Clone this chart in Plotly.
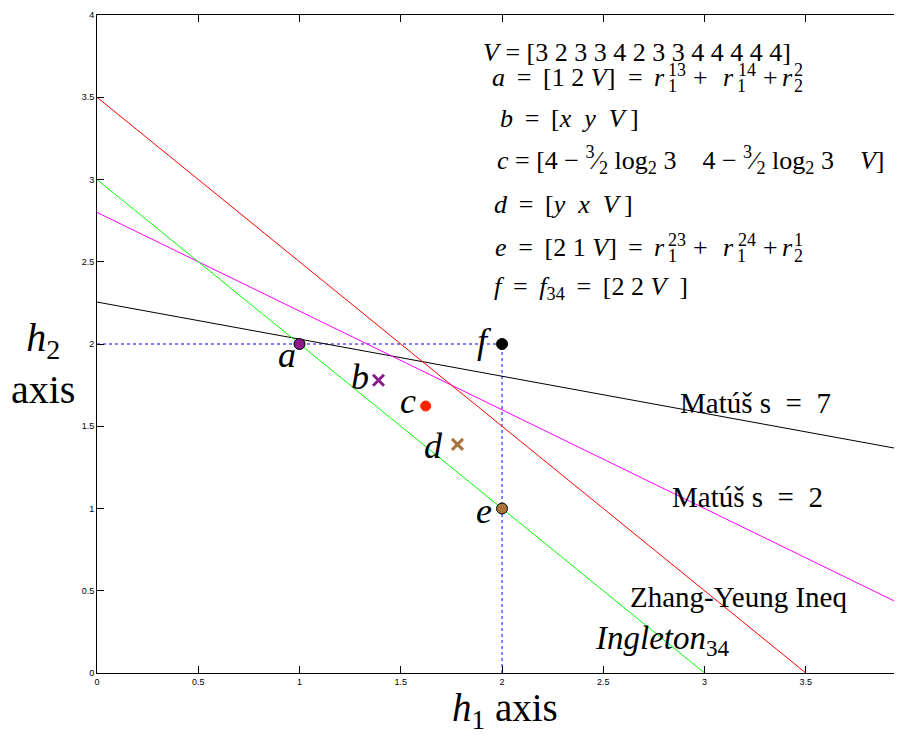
import plotly.graph_objects as go

# ---- data ----
ingleton_x = [0, 3]
ingleton_y = [3, 0]
zy_x = [0, 3.5]
zy_y = [3.5, 0]
s2_x = [0, 3.97]
s2_y = [2.8, 0.418]
s7_x = [0, 3.97]
s7_y = [2.255, 1.36]
guide_h_x = [0, 2]
guide_h_y = [2, 2]
guide_v_x = [2, 2]
guide_v_y = [0, 2]

pt_names = ["a", "b", "c", "d", "e", "f"]
pt_x = [1, 1.39, 1.623, 1.78, 2, 2]
pt_y = [2, 1.78, 1.623, 1.39, 1, 2]
pt_symbol = ["circle", "x-thin", "circle", "x-thin", "circle", "circle"]
pt_color = ["#8B1A8B", "#8B1A8B", "#FF2200", "#A8743C", "#A8743C", "#000000"]

x_ticks = [0, 0.5, 1, 1.5, 2, 2.5, 3, 3.5]
y_ticks = [0, 0.5, 1, 1.5, 2, 2.5, 3, 3.5, 4]

X_RANGE = [0, 3.97]
Y_RANGE = [0, 4]

SERIF = "Liberation Serif"
TH = "\u2009"  # thin space

# page has an 8px body margin; plot box sits at px 97..901 x 15..673
PAGE_OFF = 8
W, H = 902 - PAGE_OFF, 735 - PAGE_OFF
ML, MT, MR, MB = 97 - PAGE_OFF, 15 - PAGE_OFF, 1, 735 - 673
PX0, PX1, PY0, PY1 = 97, 901, 15, 673


def px2x(px):
    return X_RANGE[0] + (px - PX0) / (PX1 - PX0) * (X_RANGE[1] - X_RANGE[0])


def px2y(py):
    return Y_RANGE[0] + (PY1 - py) / (PY1 - PY0) * (Y_RANGE[1] - Y_RANGE[0])


fig = go.Figure()


def add_line(xs, ys, color, dash="solid"):
    fig.add_trace(go.Scatter(x=xs, y=ys, mode="lines",
                             line=dict(color=color, width=1, dash=dash),
                             hoverinfo="skip", showlegend=False))


add_line(guide_h_x, guide_h_y, "#0000FF", "dot")
add_line(guide_v_x, guide_v_y, "#0000FF", "dot")
add_line(s7_x, s7_y, "#000000")
add_line(s2_x, s2_y, "#FF00FF")
add_line(zy_x, zy_y, "#FF0000")
add_line(ingleton_x, ingleton_y, "#00FF00")

for i in range(len(pt_x)):
    if pt_symbol[i] == "circle":
        red = pt_color[i] == "#FF2200"
        marker = dict(symbol="circle", size=10 if red else 11, color=pt_color[i],
                      line=dict(color=pt_color[i] if red else "#000000", width=1))
    else:
        marker = dict(symbol="x-thin", size=11, color=pt_color[i],
                      line=dict(color=pt_color[i], width=3))
    fig.add_trace(go.Scatter(x=[pt_x[i]], y=[pt_y[i]], mode="markers",
                             marker=marker, showlegend=False, hoverinfo="skip"))


def txt(px, py, text, size, anchor="left", paper=False):
    if paper:
        kw = dict(xref="paper", yref="paper",
                  x=(px - PX0) / (PX1 - PX0), y=(PY1 - py) / (PY1 - PY0))
    else:
        kw = dict(x=px2x(px), y=px2y(py))
    fig.add_annotation(text=text, showarrow=False, xanchor=anchor, yanchor="middle",
                       borderpad=0, font=dict(family=SERIF, size=size, color="black"),
                       **kw)


# point labels (pixel centres)
lbl_px = [287, 360, 408, 433, 484, 484]
lbl_py = [355, 377, 401, 446, 511, 341]
for i in range(len(pt_names)):
    txt(lbl_px[i], lbl_py[i], "<i>%s</i>" % pt_names[i], 36, "center")

# formula block
FS = 26
EQ = " " + TH + "=" + TH + " "
txt(482, 52, "<i>V</i> = [3 2 3 3 4 2 3 3 4 4 4 4 4]", FS)


def r_sum(main, left, cy, sups, subs):
    txt(left, cy, main, FS)
    txt(635, cy, "=", FS, "center")
    for rx in [659, 728, 787]:
        txt(rx, cy, "<i>r</i>", FS, "center")
    for plx in [700, 770]:
        txt(plx, cy, "+", FS, "center")
    for sx, s in zip([667, 737, 793], sups):
        txt(sx, cy - 7, s, 18)
    for sx, s in zip([667, 736, 793], subs):
        txt(sx, cy + 9, s, 18)


r_sum("<i>a</i>" + EQ + "[1 2 <i>V</i>]", 491, 77, ["13", "14", "2"], ["1", "1", "2"])
txt(499, 118, "<i>b</i>" + EQ + "[<i>x  y  V</i>" + TH + "]", FS)
txt(496, 160, "<i>c</i> = [4 − <sup>3</sup>⁄<sub>2</sub> log<sub>2</sub> 3    4 − <sup>3</sup>⁄<sub>2</sub> log<sub>2</sub> 3    <i>V</i>]", FS)
txt(493, 204, "<i>d</i>" + EQ + "[<i>y  x  V</i>" + TH + "]", FS)
r_sum("<i>e</i>" + EQ + "[2 1 <i>V</i>]", 494, 247, ["23", "24", "1"], ["1", "1", "2"])
txt(493, 288, "<i>f</i>" + EQ + "<i>f</i><sub>34</sub>" + EQ + "[2 2 <i>V</i>  ]", FS)

# line labels
txt(755, 403, "Matúš s  =  7", 29, "center")
txt(747, 497, "Matúš s  =  2", 29, "center")
txt(738, 597, "Zhang-Yeung Ineq", 29, "center")
txt(662, 640, "<i>Ingleton</i><sub>34</sub>", 33, "center")

# axis titles
txt(505, 710, "<i>h</i><sub>1</sub> axis", 39, "center", paper=True)
txt(43, 363, "<i>h</i><sub>2</sub><br>axis", 40, "center", paper=True)

axis_common = dict(showgrid=False, zeroline=False, showline=True, linecolor="black",
                   linewidth=1, mirror="ticks", ticks="inside", ticklen=7,
                   tickcolor="black",
                   tickfont=dict(family="Liberation Sans", size=9, color="black"))

fig.update_layout(
    width=W, height=H,
    margin=dict(l=ML, r=MR, t=MT, b=MB),
    paper_bgcolor="white", plot_bgcolor="white",
    xaxis=dict(range=X_RANGE, tickvals=x_ticks,
               ticktext=[("%g" % v) for v in x_ticks], **axis_common),
    yaxis=dict(range=Y_RANGE, tickvals=y_ticks,
               ticktext=[("%g" % v) for v in y_ticks], **axis_common),
)

fig.write_html("out.html")
